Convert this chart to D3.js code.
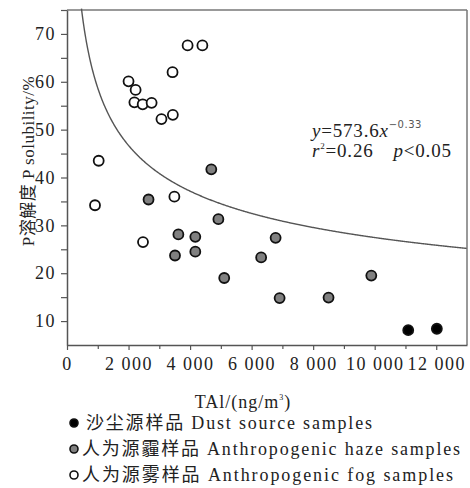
<!DOCTYPE html>
<html>
<head>
<meta charset="utf-8">
<script src="https://cdn.jsdelivr.net/npm/d3@7"></script>
<style>
body{margin:0;background:#fff}
text{font-family:"Liberation Serif","Noto Sans CJK SC",serif;fill:#222}
</style>
</head>
<body>
<script>
// sample data (TAl ng/m3, P solubility %)
const dustX = [11090, 12020]
const dustY = [8.1, 8.4]
const hazeX = [2650, 3620, 4170, 4170, 3510, 4920, 5110, 4690, 6780, 6310, 6910, 8500, 9890]
const hazeY = [35.4, 28.1, 27.6, 24.5, 23.7, 31.3, 19.0, 41.7, 27.4, 23.3, 14.8, 14.9, 19.5]
const fogX = [3920, 4400, 3430, 2000, 2230, 2190, 2460, 2750, 3070, 3440, 1030, 3490, 910, 2470]
const fogY = [67.6, 67.6, 62.0, 60.1, 58.3, 55.7, 55.3, 55.6, 52.2, 53.1, 43.5, 36.0, 34.2, 26.5]
const xTicks = [0, 2000, 4000, 6000, 8000, 10000, 12000]
const yTicks = [10, 20, 30, 40, 50, 60, 70]
const fitA = 573.6, fitB = -0.33
const legendLabels = ["沙尘源样品 Dust source samples", "人为源霾样品 Anthropogenic haze samples", "人为源雾样品 Anthropogenic fog samples"]

const width = 470, height = 488
const margin = {top:10, right:3, bottom:143, left:67}

const x = d3.scaleLinear().domain([0,13000]).range([margin.left, width-margin.right])
const y = d3.scaleLinear().domain([5,75]).range([height-margin.bottom, margin.top])

const loc = d3.formatLocale({decimal:".", thousands:" ", grouping:[3], currency:["",""]})
const fmt = loc.format(",d")

const svg = d3.select("body").append("svg")
  .attr("width",width).attr("height",height)

// frame top + right
svg.append("line").attr("x1",margin.left).attr("x2",width-margin.right)
  .attr("y1",margin.top).attr("y2",margin.top).attr("stroke","#777").attr("stroke-width",1.5)
svg.append("line").attr("x1",width-margin.right).attr("x2",width-margin.right)
  .attr("y1",margin.top).attr("y2",height-margin.bottom).attr("stroke","#777").attr("stroke-width",1.5)

// axes
svg.append("g").attr("transform","translate(0,"+(height-margin.bottom)+")")
  .call(d3.axisBottom(x).tickValues(xTicks).tickFormat(fmt).tickSize(5).tickPadding(7).tickSizeOuter(0))
svg.append("g").attr("transform","translate(0,"+(height-margin.bottom)+")")
  .call(d3.axisBottom(x).tickValues(d3.range(1000,13000,2000)).tickFormat("").tickSize(4).tickSizeOuter(0))
  .select(".domain").remove()
svg.append("g").attr("transform","translate("+margin.left+",0)")
  .call(d3.axisLeft(y).tickValues(yTicks).tickSize(6).tickPadding(5).tickSizeOuter(0))
svg.append("g").attr("transform","translate("+margin.left+",0)")
  .call(d3.axisLeft(y).tickValues([15,25,35,45,55,65,75]).tickFormat("").tickSize(6).tickSizeOuter(0))
  .select(".domain").remove()

svg.selectAll(".domain").attr("stroke","#555").attr("stroke-width",1.5)
svg.selectAll(".tick line").attr("stroke","#555").attr("stroke-width",1.2)
svg.selectAll(".tick text").style("font-size","18px").style("letter-spacing","1.5px")
  .style("font-family","'Liberation Serif',serif").attr("fill","#222")

// fitted curve
const xs = d3.range(470, 13001, 20)
const line = d3.line().x(d=>x(d)).y(d=>y(fitA*Math.pow(d,fitB)))
svg.append("path").datum(xs).attr("d",line)
  .attr("fill","none").attr("stroke","#555").attr("stroke-width",1.4)

// points
function dots(xv, yv, fill){
  svg.append("g").selectAll("circle").data(xv).enter().append("circle")
    .attr("cx",(d)=>x(d)).attr("cy",(d,i)=>y(yv[i])).attr("r",5)
    .attr("fill",fill).attr("stroke","#111").attr("stroke-width",1.8)
}
dots(fogX, fogY, "#fff")
dots(hazeX, hazeY, "#808080")
dots(dustX, dustY, "#000")

// equation
const eq = svg.append("text").attr("x",312).attr("y",137).style("font-size","19px").style("letter-spacing","0.8px")
eq.append("tspan").style("font-style","italic").text("y")
eq.append("tspan").text("=573.6")
eq.append("tspan").style("font-style","italic").text("x")
eq.append("tspan").attr("dy",-9).style("font-size","10px").style("letter-spacing","0.5px").style("font-family","'DejaVu Sans',sans-serif").attr("fill","#555").text("−0.33")
const eq2 = svg.append("text").attr("x",312).attr("y",157).style("font-size","19px").style("letter-spacing","0.8px")
eq2.append("tspan").style("font-style","italic").text("r")
eq2.append("tspan").attr("dy",-8).style("font-size","9px").text("2")
eq2.append("tspan").attr("dy",8).text("=0.26")
eq2.append("tspan").attr("dx",20).style("font-style","italic").text("p")
eq2.append("tspan").text("<0.05")

// axis titles
svg.append("text").attr("transform","translate(28,161) rotate(-90)")
  .attr("text-anchor","middle").attr("dy","0.35em").style("font-size","17px").style("letter-spacing","0.5px")
  .text("P溶解度 P solubility/%")
const xt = svg.append("text").attr("x",243).attr("y",408).attr("text-anchor","middle")
  .style("font-size","18px").style("letter-spacing","1px")
xt.append("tspan").text("TAl/(ng/m")
xt.append("tspan").attr("dy",-8).style("font-size","8px").text("3")
xt.append("tspan").attr("dy",8).text(")")

// legend
const legFill = ["#000","#808080","#fff"]
const legW = [286, 378, 371]
const lg = svg.append("g")
lg.selectAll("circle").data(legendLabels).enter().append("circle")
  .attr("cx",74).attr("cy",(d,i)=>423+i*26).attr("r",4)
  .attr("fill",(d,i)=>legFill[i]).attr("stroke","#111").attr("stroke-width",1.6)
lg.selectAll("text").data(legendLabels).enter().append("text")
  .attr("x",(d,i)=>i==0?86:82).attr("y",(d,i)=>423+i*26).attr("dy","0.35em")
  .attr("textLength",(d,i)=>legW[i]).attr("lengthAdjust","spacing")
  .style("font-size","18px")
  .text(d=>d)
</script>
</body>
</html>
